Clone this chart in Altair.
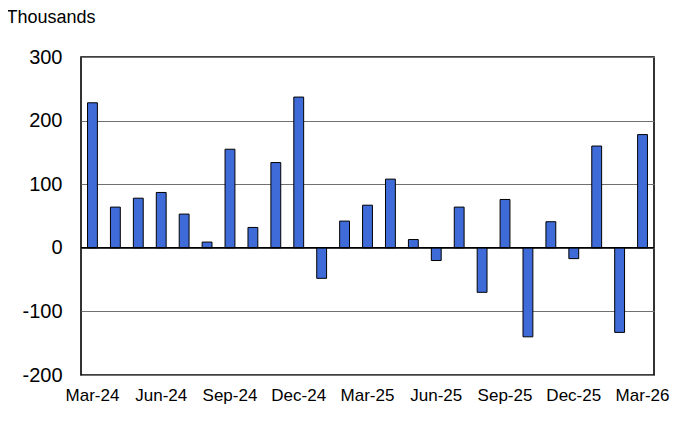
import altair as alt
import pandas as pd

months = ["Mar-24", "Apr-24", "May-24", "Jun-24", "Jul-24", "Aug-24", "Sep-24",
          "Oct-24", "Nov-24", "Dec-24", "Jan-25", "Feb-25", "Mar-25", "Apr-25",
          "May-25", "Jun-25", "Jul-25", "Aug-25", "Sep-25", "Oct-25", "Nov-25",
          "Dec-25", "Jan-26", "Feb-26", "Mar-26"]
values = [228, 64, 78, 87, 53, 9, 155, 32, 134, 237, -48, 42, 67, 108,
          13, -20, 64, -70, 76, -140, 41, -17, 160, -133, 178]
tick_labels = ["Mar-24", "Jun-24", "Sep-24", "Dec-24", "Mar-25", "Jun-25",
               "Sep-25", "Dec-25", "Mar-26"]
y_ticks = [-200, -100, 0, 100, 200, 300]

df = pd.DataFrame({"month": months, "value": values})

FONT = "Liberation Sans"

x_enc = alt.X("month:N", sort=months,
              scale=alt.Scale(paddingInner=0.57, paddingOuter=0.285),
              axis=alt.Axis(values=tick_labels, labelAngle=0, title=None,
                            labelFont=FONT, labelFontSize=17, labelColor="#000",
                            labelPadding=12, ticks=False, domain=False, grid=False))
y_enc = alt.Y("value:Q", scale=alt.Scale(domain=[-200, 300], nice=False),
              axis=alt.Axis(values=y_ticks, title="Thousands", titleAngle=0,
                            titleAlign="left", titleBaseline="alphabetic",
                            titleX=-75, titleY=-35, titleFont=FONT,
                            titleFontSize=18, titleFontWeight="normal",
                            titleColor="#000",
                            labelExpr="'' + datum.value",
                            labelFont=FONT, labelFontSize=20, labelColor="#000",
                            labelPadding=19, ticks=False, domain=False,
                            grid=True, gridColor="#707070", gridWidth=1.2))

bars = alt.Chart(df).mark_bar(color="#3F6BD8", stroke="#000", strokeWidth=1).encode(
    x=x_enc, y=y_enc
)

zero = alt.Chart(pd.DataFrame({"z": [0]})).mark_rule(color="#000", strokeWidth=1.5).encode(
    y="z:Q"
)

chart = alt.layer(bars, zero).properties(
    width=573, height=318,
    autosize=alt.AutoSizeParams(type="none"),
    padding={"left": 73, "top": 49, "right": 20, "bottom": 40},
).configure_view(stroke="#000", strokeWidth=1.6)

chart.save("out.html", embed_options={"renderer": "svg", "actions": False})
